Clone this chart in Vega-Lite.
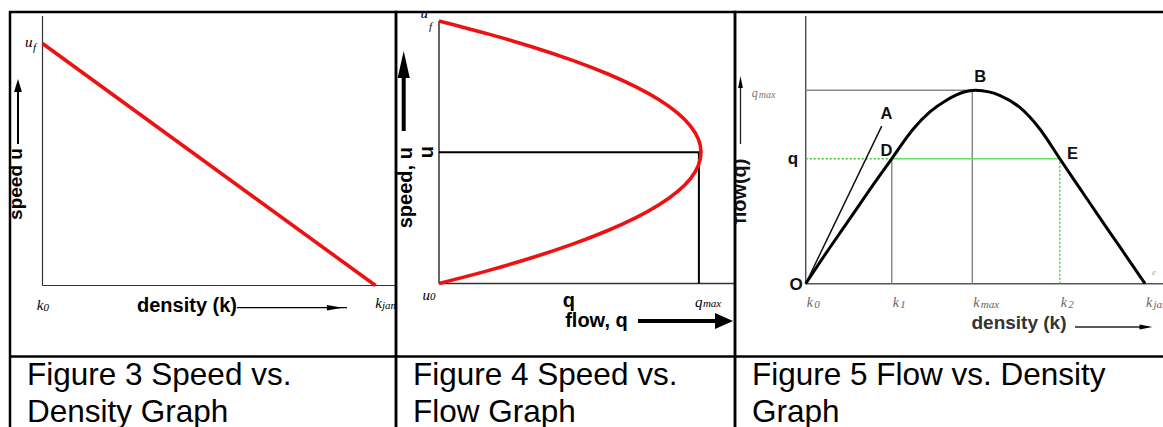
{
  "$schema": "https://vega.github.io/schema/vega-lite/v6.json",
  "background": "white",
  "padding": {"left": 5, "top": 4, "right": 0, "bottom": 0},
  "autosize": {"type": "pad"},
  "bounds": "flush",
  "spacing": 0,
  "config": {
    "view": {"stroke": "#000", "strokeWidth": 2.5},
    "style": {
      "math": {"font": "Liberation Serif", "fontStyle": "italic", "fontSize": 15, "fill": "#555", "baseline": "middle"},
      "msub": {"font": "Liberation Serif", "fontStyle": "italic", "fontSize": 11, "fill": "#555", "baseline": "middle", "align": "left"},
      "lbl": {"font": "Liberation Sans", "fontWeight": "bold", "fontSize": 20, "fill": "#000", "baseline": "middle", "align": "center"},
      "cap": {"font": "Liberation Sans", "fontSize": 31.5, "fill": "#000", "align": "left", "baseline": "alphabetic", "lineBreak": "\n", "lineHeight": 36.5}
    }
  },
  "hconcat": [
    {
      "width": 386,
      "height": 430,
      "encoding": {
        "x": {"field": "k", "type": "quantitative", "scale": {"domain": [-0.0976, 1.0616], "nice": false, "zero": false}, "axis": null},
        "y": {"field": "u", "type": "quantitative", "scale": {"domain": [-0.6467, 1.1302], "nice": false, "zero": false}, "axis": null}
      },
      "layer": [
        {"data": {"values": [{"k": 0, "u": 0, "k2": 0, "u2": 1.1136}, {"k": 0, "u": 0, "k2": 1.0616, "u2": 0}]},
         "mark": {"type": "rule", "color": "#333", "strokeWidth": 1.2},
         "encoding": {"x2": {"field": "k2"}, "y2": {"field": "u2"}}},
        {"data": {"values": [{"k": 0, "u": 1}, {"k": 1, "u": 0}]},
         "mark": {"type": "line", "color": "#ee1111", "strokeWidth": 3.6},
         "encoding": {}},
        {"data": {"values": [{"k": 0, "u": 1, "t": "u"}]},
         "mark": {"type": "text", "style": "math", "align": "right", "dx": -10, "dy": -2},
         "encoding": {"text": {"field": "t"}}},
        {"data": {"values": [{"k": 0, "u": 1, "t": "f"}]},
         "mark": {"type": "text", "style": "msub", "dx": -9.5, "dy": 4.5},
         "encoding": {"text": {"field": "t"}}},
        {"data": {"values": [{"k": 0, "u": 0, "t": "k"}]},
         "mark": {"type": "text", "style": "math", "align": "right", "dx": 1, "dy": 19},
         "encoding": {"text": {"field": "t"}}},
        {"data": {"values": [{"k": 0, "u": 0, "t": "0"}]},
         "mark": {"type": "text", "style": "msub", "dx": 1, "dy": 22},
         "encoding": {"text": {"field": "t"}}},
        {"data": {"values": [{"k": 1, "u": 0, "t": "k"}]},
         "mark": {"type": "text", "style": "math", "align": "right", "dx": 6.5, "dy": 17, "clip": true},
         "encoding": {"text": {"field": "t"}}},
        {"data": {"values": [{"k": 1, "u": 0, "t": "jam"}]},
         "mark": {"type": "text", "style": "msub", "dx": 6.5, "dy": 20, "clip": true},
         "encoding": {"text": {"field": "t"}}},
        {"data": {"values": [{"k": -0.0616, "u": 0.4194, "t": "speed u"}]},
         "mark": {"type": "text", "style": "lbl", "angle": 270, "baseline": "alphabetic", "fontSize": 19},
         "encoding": {"text": {"field": "t"}}},
        {"data": {"values": [{"k": 0.434, "u": -0.0847, "t": "density (k)"}]},
         "mark": {"type": "text", "style": "lbl"},
         "encoding": {"text": {"field": "t"}}},
        {"data": {"values": [{"k": -0.0736, "u": 0.5847, "k2": -0.0736, "u2": 0.8}]},
         "mark": {"type": "rule", "color": "#000", "strokeWidth": 2},
         "encoding": {"x2": {"field": "k2"}, "y2": {"field": "u2"}}},
        {"data": {"values": [{"k": 0.584, "u": -0.0917, "k2": 0.9144, "u2": -0.0917}]},
         "mark": {"type": "rule", "color": "#000", "strokeWidth": 1.2},
         "encoding": {"x2": {"field": "k2"}, "y2": {"field": "u2"}}},
        {"data": {"values": [{"k": -0.0736, "u": 0.8264}]},
         "mark": {"type": "point", "shape": "M0,-1L0.6,1L-0.6,1Z", "size": 169, "filled": true, "color": "#000", "opacity": 1, "strokeWidth": 0},
         "encoding": {}},
        {"data": {"values": [{"k": 0.878, "u": -0.0917}]},
         "mark": {"type": "point", "shape": "M1,0L-1,-0.35L-1,0.35Z", "size": 256, "filled": true, "color": "#000", "opacity": 1, "strokeWidth": 0},
         "encoding": {}},
        {"data": {"values": [{"k": -0.0976, "k2": 1.0616, "u": -0.2934}]},
         "mark": {"type": "rule", "color": "#000", "strokeWidth": 2.5},
         "encoding": {"x2": {"field": "k2"}}},
        {"data": {"values": [{"k": -0.0465, "u": -0.4112, "t": "Figure 3 Speed vs.\nDensity Graph"}]},
         "mark": {"type": "text", "style": "cap"},
         "encoding": {"text": {"field": "t"}}}
      ]
    },
    {
      "width": 339,
      "height": 430,
      "encoding": {
        "x": {"field": "q", "type": "quantitative", "scale": {"domain": [-0.1641, 1.1298], "nice": false, "zero": false}, "axis": null},
        "y": {"field": "u", "type": "quantitative", "scale": {"domain": [-0.6038, 1.0343], "nice": false, "zero": false}, "axis": null}
      },
      "layer": [
        {"data": {"values": [{"q": 0, "u": 0, "q2": 0, "u2": 1}, {"q": 0, "u": 0, "q2": 1.1298, "u2": 0}]},
         "mark": {"type": "rule", "color": "#333", "strokeWidth": 1.5},
         "encoding": {"x2": {"field": "q2"}, "y2": {"field": "u2"}}},
        {"data": {"values": [{"q": 0, "u": 0.5, "q2": 1, "u2": 0.5}, {"q": 0.992, "u": 0, "q2": 0.992, "u2": 0.5}]},
         "mark": {"type": "rule", "color": "#000", "strokeWidth": 2},
         "encoding": {"x2": {"field": "q2"}, "y2": {"field": "u2"}}},
        {"data": {"values": [
          {"u": 0, "q": 0}, {"u": 0.05, "q": 0.19}, {"u": 0.1, "q": 0.36}, {"u": 0.15, "q": 0.51},
          {"u": 0.2, "q": 0.64}, {"u": 0.25, "q": 0.75}, {"u": 0.3, "q": 0.84}, {"u": 0.35, "q": 0.91},
          {"u": 0.4, "q": 0.96}, {"u": 0.45, "q": 0.99}, {"u": 0.5, "q": 1}, {"u": 0.55, "q": 0.99},
          {"u": 0.6, "q": 0.96}, {"u": 0.65, "q": 0.91}, {"u": 0.7, "q": 0.84}, {"u": 0.75, "q": 0.75},
          {"u": 0.8, "q": 0.64}, {"u": 0.85, "q": 0.51}, {"u": 0.9, "q": 0.36}, {"u": 0.95, "q": 0.19},
          {"u": 1, "q": 0}]},
         "mark": {"type": "line", "color": "#ee1111", "strokeWidth": 3.6, "interpolate": "natural"},
         "encoding": {"order": {"field": "u", "type": "quantitative"}}},
        {"data": {"values": [{"q": 0, "u": 1, "t": "u"}]},
         "mark": {"type": "text", "style": "math", "align": "right", "dx": -11, "dy": -8.5},
         "encoding": {"text": {"field": "t"}}},
        {"data": {"values": [{"q": 0, "u": 1, "t": "f"}]},
         "mark": {"type": "text", "style": "msub", "dx": -10, "dy": 6},
         "encoding": {"text": {"field": "t"}}},
        {"data": {"values": [{"q": 0, "u": 0, "t": "u"}]},
         "mark": {"type": "text", "style": "math", "align": "right", "dx": -9, "dy": 11.5},
         "encoding": {"text": {"field": "t"}}},
        {"data": {"values": [{"q": 0, "u": 0, "t": "0"}]},
         "mark": {"type": "text", "style": "msub", "dx": -9, "dy": 13.5},
         "encoding": {"text": {"field": "t"}}},
        {"data": {"values": [{"q": 0.992, "u": 0, "t": "q"}]},
         "mark": {"type": "text", "style": "math", "align": "left", "dx": -4, "dy": 18},
         "encoding": {"text": {"field": "t"}}},
        {"data": {"values": [{"q": 0.992, "u": 0, "t": "max"}]},
         "mark": {"type": "text", "style": "msub", "dx": 4, "dy": 20},
         "encoding": {"text": {"field": "t"}}},
        {"data": {"values": [{"q": -0.0229, "u": 0.5, "t": "u"}, {"q": -0.104, "u": 0.365, "t": "speed, u"}]},
         "mark": {"type": "text", "style": "lbl", "angle": 270, "baseline": "alphabetic"},
         "encoding": {"text": {"field": "t"}}},
        {"data": {"values": [{"q": 0.496, "u": -0.0667, "t": "q"}, {"q": 0.601, "u": -0.141, "t": "flow, q"}]},
         "mark": {"type": "text", "style": "lbl"},
         "encoding": {"text": {"field": "t"}}},
        {"data": {"values": [{"q": -0.1347, "u": 0.581, "q2": -0.1347, "u2": 0.79}, {"q": 0.7595, "u": -0.1429, "q2": 1.065, "u2": -0.1429}]},
         "mark": {"type": "rule", "color": "#000", "strokeWidth": 4},
         "encoding": {"x2": {"field": "q2"}, "y2": {"field": "u2"}}},
        {"data": {"values": [{"q": -0.1347, "u": 0.8343}]},
         "mark": {"type": "point", "shape": "M0,-1L0.45,1L-0.45,1Z", "size": 729, "filled": true, "color": "#000", "opacity": 1, "strokeWidth": 0},
         "encoding": {}},
        {"data": {"values": [{"q": 1.0878, "u": -0.1429}]},
         "mark": {"type": "point", "shape": "M1,0L-1,-0.9L-1,0.9Z", "size": 324, "filled": true, "color": "#000", "opacity": 1, "strokeWidth": 0},
         "encoding": {}},
        {"data": {"values": [{"q": -0.1641, "q2": 1.1298, "u": -0.2781}]},
         "mark": {"type": "rule", "color": "#000", "strokeWidth": 2.5},
         "encoding": {"x2": {"field": "q2"}}},
        {"data": {"values": [{"q": -0.0992, "u": -0.3867, "t": "Figure 4 Speed vs.\nFlow Graph"}]},
         "mark": {"type": "text", "style": "cap"},
         "encoding": {"text": {"field": "t"}}}
      ]
    },
    {
      "width": 440,
      "height": 430,
      "encoding": {
        "x": {"field": "k", "type": "quantitative", "scale": {"domain": [-0.2084, 1.0884], "nice": false, "zero": false}, "axis": null},
        "y": {"field": "q", "type": "quantitative", "scale": {"domain": [-0.8185, 1.4049], "nice": false, "zero": false}, "axis": null}
      },
      "layer": [
        {"data": {"values": [{"k": 0, "q": 0, "k2": 0, "q2": 1.384}, {"k": 0, "q": 0, "k2": 1.0884, "q2": 0}]},
         "mark": {"type": "rule", "color": "#555", "strokeWidth": 1.5},
         "encoding": {"x2": {"field": "k2"}, "y2": {"field": "q2"}}},
        {"data": {"values": [{"k": 0, "q": 1, "k2": 0.491, "q2": 1}, {"k": 0.491, "q": 0, "k2": 0.491, "q2": 1}, {"k": 0.2535, "q": 0, "k2": 0.2535, "q2": 0.646}]},
         "mark": {"type": "rule", "color": "#8a8a8a", "strokeWidth": 1.5},
         "encoding": {"x2": {"field": "k2"}, "y2": {"field": "q2"}}},
        {"data": {"values": [{"k": 0, "q": 0.646, "k2": 0.2535, "q2": 0.646}, {"k": 0.749, "q": 0, "k2": 0.749, "q2": 0.646}]},
         "mark": {"type": "rule", "color": "#33cc33", "strokeWidth": 1.3, "strokeDash": [2, 2]},
         "encoding": {"x2": {"field": "k2"}, "y2": {"field": "q2"}}},
        {"data": {"values": [{"k": 0.2535, "q": 0.646, "k2": 0.749, "q2": 0.646}]},
         "mark": {"type": "rule", "color": "#66dd66", "strokeWidth": 1.3},
         "encoding": {"x2": {"field": "k2"}, "y2": {"field": "q2"}}},
        {"data": {"values": [{"k": 0, "q": 0, "k2": 0.224, "q2": 0.815}]},
         "mark": {"type": "rule", "color": "#111", "strokeWidth": 1.5},
         "encoding": {"x2": {"field": "k2"}, "y2": {"field": "q2"}}},
        {"data": {"values": [
          {"k": 0, "q": 0}, {"k": 0.06, "q": 0.158}, {"k": 0.121, "q": 0.313}, {"k": 0.209, "q": 0.537},
          {"k": 0.2535, "q": 0.646}, {"k": 0.317, "q": 0.8}, {"k": 0.366, "q": 0.888}, {"k": 0.416, "q": 0.95},
          {"k": 0.464, "q": 0.99}, {"k": 0.5, "q": 1}, {"k": 0.54, "q": 0.992}, {"k": 0.573, "q": 0.973},
          {"k": 0.632, "q": 0.91}, {"k": 0.69, "q": 0.8}, {"k": 0.749, "q": 0.646}, {"k": 0.808, "q": 0.493},
          {"k": 0.867, "q": 0.34}, {"k": 0.926, "q": 0.19}, {"k": 1, "q": 0}]},
         "mark": {"type": "line", "color": "#000", "strokeWidth": 3, "interpolate": "monotone"},
         "encoding": {}},
        {"data": {"values": [{"k": 0.238, "q": 0.88, "t": "A"}, {"k": 0.514, "q": 1.069, "t": "B"}, {"k": 0.238, "q": 0.686, "t": "D"}, {"k": 0.786, "q": 0.673, "t": "E"}]},
         "mark": {"type": "text", "style": "lbl", "fontSize": 16.5, "fill": "#111"},
         "encoding": {"text": {"field": "t"}}},
        {"data": {"values": [{"k": -0.0286, "q": -0.0067, "t": "O"}, {"k": -0.0374, "q": 0.647, "t": "q"}]},
         "mark": {"type": "text", "style": "lbl", "fontSize": 17, "fill": "#111"},
         "encoding": {"text": {"field": "t"}}},
        {"data": {"values": [{"k": 0, "q": 0, "t": "k"}, {"k": 0.2535, "q": 0, "t": "k"}, {"k": 0.491, "q": 0, "t": "k"}, {"k": 0.749, "q": 0, "t": "k"}, {"k": 1, "q": 0, "t": "k"}]},
         "mark": {"type": "text", "style": "math", "align": "left", "dx": 1, "dy": 19, "fontSize": 14, "fill": "#666"},
         "encoding": {"text": {"field": "t"}}},
        {"data": {"values": [{"k": 0, "q": 0, "t": "0"}, {"k": 0.2535, "q": 0, "t": "1"}, {"k": 0.491, "q": 0, "t": "max"}, {"k": 0.749, "q": 0, "t": "2"}, {"k": 1, "q": 0, "t": "jam"}]},
         "mark": {"type": "text", "style": "msub", "dx": 8.5, "dy": 21, "fill": "#666"},
         "encoding": {"text": {"field": "t"}}},
        {"data": {"values": [{"k": 0, "q": 1, "t": "q"}]},
         "mark": {"type": "text", "style": "math", "align": "left", "dx": -54, "dy": 3, "fontSize": 12, "fill": "#777"},
         "encoding": {"text": {"field": "t"}}},
        {"data": {"values": [{"k": 0, "q": 1, "t": "max"}]},
         "mark": {"type": "text", "style": "msub", "dx": -47, "dy": 5, "fontSize": 10, "fill": "#777"},
         "encoding": {"text": {"field": "t"}}},
        {"data": {"values": [{"k": 1.021, "q": 0.055, "t": "e"}]},
         "mark": {"type": "text", "style": "msub", "fontSize": 8, "fill": "#999"},
         "encoding": {"text": {"field": "t"}}},
        {"data": {"values": [{"k": -0.176, "q": 0.478, "t": "flow(q)"}]},
         "mark": {"type": "text", "style": "lbl", "angle": 270, "baseline": "alphabetic", "fontSize": 20, "fill": "#111", "clip": true},
         "encoding": {"text": {"field": "t"}}},
        {"data": {"values": [{"k": 0.6286, "q": -0.2032, "t": "density (k)"}]},
         "mark": {"type": "text", "style": "lbl", "fontSize": 19, "fill": "#333"},
         "encoding": {"text": {"field": "t"}}},
        {"data": {"values": [{"k": -0.1922, "q": 0.7223, "k2": -0.1922, "q2": 1.02}, {"k": 0.7937, "q": -0.2239, "k2": 1.0, "q2": -0.2239}]},
         "mark": {"type": "rule", "color": "#222", "strokeWidth": 1.3},
         "encoding": {"x2": {"field": "k2"}, "y2": {"field": "q2"}}},
        {"data": {"values": [{"k": -0.1922, "q": 1.043}]},
         "mark": {"type": "point", "shape": "M0,-1L0.4,1L-0.4,1Z", "size": 144, "filled": true, "color": "#000", "opacity": 1, "strokeWidth": 0},
         "encoding": {}},
        {"data": {"values": [{"k": 1.003, "q": -0.2239}]},
         "mark": {"type": "point", "shape": "M1,0L-1,-0.4L-1,0.4Z", "size": 169, "filled": true, "color": "#000", "opacity": 1, "strokeWidth": 0},
         "encoding": {}},
        {"data": {"values": [{"k": -0.2084, "k2": 1.0884, "q": -0.3764}]},
         "mark": {"type": "rule", "color": "#000", "strokeWidth": 2.5},
         "encoding": {"x2": {"field": "k2"}}},
        {"data": {"values": [{"k": -0.1583, "q": -0.5238, "t": "Figure 5 Flow vs. Density\nGraph"}]},
         "mark": {"type": "text", "style": "cap"},
         "encoding": {"text": {"field": "t"}}}
      ]
    }
  ]
}
